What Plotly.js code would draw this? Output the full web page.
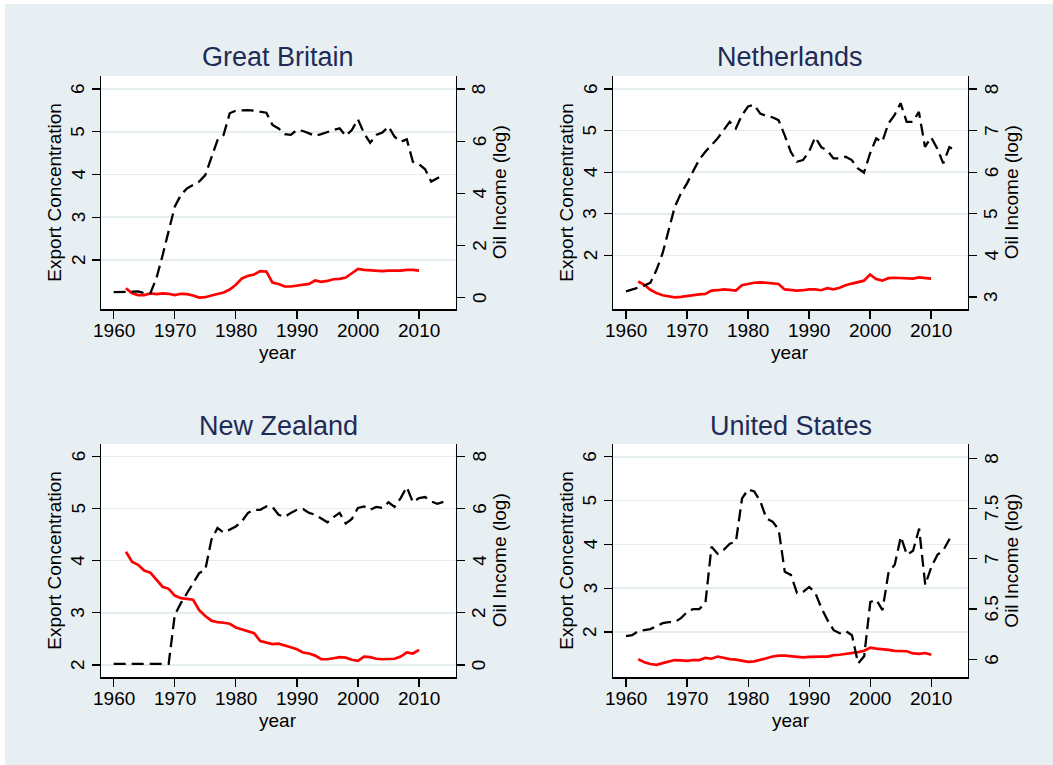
<!DOCTYPE html>
<html>
<head>
<meta charset="utf-8">
<script src="https://cdn.plot.ly/plotly-3.0.1.min.js"></script>
<style>
  html, body { margin: 0; padding: 0; background: #ffffff; }
  #chart { width: 1053px; height: 765px; }
</style>
</head>
<body>
<div id="chart"></div>
<script>
// ---------------- DATA ----------------
const panelTitles = ["Great Britain", "Netherlands", "New Zealand", "United States"];

const yearsOil = [1960,1961,1962,1963,1964,1965,1966,1967,1968,1969,
  1970,1971,1972,1973,1974,1975,1976,1977,1978,1979,
  1980,1981,1982,1983,1984,1985,1986,1987,1988,1989,
  1990,1991,1992,1993,1994,1995,1996,1997,1998,1999,
  2000,2001,2002,2003,2004,2005,2006,2007,2008,2009,
  2010,2011,2012,2013,2014];
const yearsOilUS = [1960,1961,1962,1963,1964,1965,1966,1967,1968,1969,
  1970,1971,1972,1973,1974,1975,1976,1977,1978,1979,
  1980,1981,1982,1983,1984,1985,1986,1987,1988,1989,
  1990,1991,1992,1993,1994,1995,1996,1997,1998,1999,
  2000,2001,2002,2003,2004,2005,2006,2007,2008,2009,
  2010,2011,2012,2013];
const yearsExp = [1962,1963,1964,1965,1966,1967,1968,1969,1970,1971,
  1972,1973,1974,1975,1976,1977,1978,1979,1980,1981,
  1982,1983,1984,1985,1986,1987,1988,1989,1990,1991,
  1992,1993,1994,1995,1996,1997,1998,1999,2000,2001,
  2002,2003,2004,2005,2006,2007,2008,2009,2010];

// Export concentration (left axis, red solid)
const expGB = [1.34,1.22,1.18,1.18,1.22,1.20,1.22,1.21,1.18,1.21,
  1.20,1.17,1.12,1.13,1.17,1.20,1.24,1.31,1.42,1.57,
  1.63,1.66,1.74,1.73,1.47,1.44,1.38,1.38,1.40,1.42,
  1.44,1.52,1.49,1.51,1.55,1.56,1.59,1.69,1.79,1.77,
  1.76,1.75,1.74,1.75,1.75,1.75,1.77,1.77,1.75];
const expNL = [1.37,1.29,1.17,1.09,1.04,1.01,0.99,1.00,1.02,1.05,
  1.06,1.07,1.15,1.16,1.18,1.17,1.15,1.28,1.31,1.34,
  1.35,1.34,1.33,1.31,1.18,1.16,1.15,1.16,1.18,1.18,
  1.16,1.21,1.18,1.22,1.28,1.32,1.36,1.39,1.54,1.43,
  1.39,1.45,1.46,1.45,1.45,1.44,1.47,1.45,1.44];
const expNZ = [4.17,3.98,3.92,3.81,3.77,3.64,3.50,3.46,3.33,3.28,
  3.27,3.25,3.05,2.94,2.85,2.82,2.81,2.79,2.72,2.68,
  2.65,2.61,2.46,2.43,2.40,2.41,2.38,2.34,2.30,2.24,
  2.22,2.18,2.11,2.11,2.13,2.15,2.14,2.10,2.08,2.16,
  2.15,2.12,2.11,2.11,2.12,2.16,2.24,2.22,2.29];
const expUS = [1.38,1.31,1.27,1.25,1.29,1.32,1.36,1.35,1.34,1.36,
  1.36,1.41,1.39,1.44,1.41,1.38,1.37,1.35,1.32,1.33,
  1.36,1.40,1.44,1.46,1.46,1.45,1.44,1.42,1.43,1.44,
  1.44,1.44,1.47,1.48,1.50,1.51,1.54,1.57,1.64,1.62,
  1.61,1.59,1.57,1.56,1.56,1.51,1.50,1.52,1.48];

// Oil income (log) (right axis, black dashed)
const oilGB = [0.21,0.21,0.22,0.23,0.24,0.18,0.17,0.75,1.62,2.50,
  3.49,3.94,4.19,4.32,4.45,4.70,5.34,6.04,6.24,7.07,
  7.17,7.19,7.19,7.17,7.13,7.09,6.62,6.49,6.27,6.24,
  6.43,6.39,6.30,6.20,6.27,6.36,6.43,6.49,6.20,6.43,
  6.84,6.30,5.94,6.24,6.33,6.56,6.17,5.98,6.07,5.21,
  5.12,4.92,4.45,4.58,4.70];
const oilNL = [3.13,3.17,3.22,3.27,3.34,3.65,4.05,4.61,5.17,5.49,
  5.73,6.02,6.30,6.49,6.65,6.81,7.01,7.21,7.05,7.37,
  7.58,7.62,7.41,7.35,7.32,7.25,6.89,6.49,6.25,6.29,
  6.49,6.84,6.60,6.52,6.33,6.33,6.37,6.29,6.09,5.99,
  6.45,6.81,6.73,7.17,7.37,7.66,7.21,7.21,7.45,6.61,
  6.84,6.57,6.21,6.60,6.52];
const oilNZ = [0.04,0.04,0.04,0.04,0.04,0.04,0.04,0.04,0.04,0.04,
  1.92,2.37,2.75,3.14,3.52,3.65,4.80,5.25,5.08,5.19,
  5.31,5.51,5.83,5.95,5.95,6.08,6.06,5.76,5.67,5.83,
  5.95,5.98,5.83,5.76,5.63,5.47,5.67,5.83,5.42,5.60,
  6.02,6.08,5.95,6.06,6.02,6.24,6.06,6.40,6.82,6.24,
  6.40,6.44,6.27,6.18,6.25];
const oilUS = [6.23,6.24,6.28,6.29,6.30,6.33,6.36,6.37,6.37,6.41,
  6.47,6.50,6.50,6.56,7.12,7.05,7.09,7.15,7.17,7.60,
  7.69,7.67,7.57,7.40,7.37,7.29,6.87,6.84,6.66,6.67,
  6.72,6.66,6.51,6.39,6.29,6.26,6.28,6.24,5.96,6.03,
  6.57,6.59,6.49,6.87,6.94,7.22,7.04,7.08,7.30,6.74,
  6.92,7.04,7.09,7.20];

const xTicks = [1960, 1970, 1980, 1990, 2000, 2010];
const xTickText = ["1960", "1970", "1980", "1990", "2000", "2010"];
const leftTicks = [2, 3, 4, 5, 6];
const leftTickText = ["2", "3", "4", "5", "6"];
const rightTicksGB = [0, 2, 4, 6, 8];
const rightTickTextGB = ["0", "2", "4", "6", "8"];
const rightTicksNL = [3, 4, 5, 6, 7, 8];
const rightTickTextNL = ["3", "4", "5", "6", "7", "8"];
const rightTicksNZ = [0, 2, 4, 6, 8];
const rightTickTextNZ = ["0", "2", "4", "6", "8"];
const rightTicksUS = [6, 6.5, 7, 7.5, 8];
const rightTickTextUS = ["6", "6.5", "7", "7.5", "8"];

const leftTitle = "Export Concentration";
const rightTitle = "Oil Income (log)";
const xTitle = "year";

// ---------------- LAYOUT ----------------
const W = 1053, H = 765;
const BG = "#e8eff2";
const FONT = "Liberation Sans, Arial, sans-serif";

// plot boxes in pixels: [left, right, top, bottom]
const boxes = [
  [101, 455.7, 76, 309.3],
  [613, 967.7, 76, 309.3],
  [101, 455.7, 444, 677.3],
  [613, 968, 444, 677.3]
];
const xRanges = [[1957.92, 2016.01], [1957.87, 2016.0], [1957.92, 2016.01], [1957.87, 2016.0]];
const leftRanges = [[0.847, 6.304], [0.701, 6.313], [1.764, 6.236], [0.966, 6.290]];
const rightRanges = [[-0.445, 8.498], [2.701, 8.313], [-0.472, 8.472], [5.821, 8.142]];
const rightTicks = [rightTicksGB, rightTicksNL, rightTicksNZ, rightTicksUS];
const rightTickTexts = [rightTickTextGB, rightTickTextNL, rightTickTextNZ, rightTickTextUS];
const expSeries = [expGB, expNL, expNZ, expUS];
const oilSeries = [oilGB, oilNL, oilNZ, oilUS];
const oilYears = [yearsOil, yearsOil, yearsOil, yearsOilUS];

const px = v => v / W;
const py = v => 1 - v / H;

const traces = [];
const layout = {
  width: W, height: H,
  margin: {l: 0, r: 0, t: 0, b: 0},
  paper_bgcolor: BG,
  plot_bgcolor: "#ffffff",
  showlegend: false,
  font: {family: FONT, size: 19, color: "#000000"},
  annotations: [],
  shapes: [
    {type: "rect", xref: "paper", yref: "paper", x0: 0, x1: px(5), y0: 0, y1: 1,
     fillcolor: "#ffffff", line: {width: 0}, layer: "above"},
    {type: "rect", xref: "paper", yref: "paper", x0: 0, x1: 1, y0: py(4), y1: 1,
     fillcolor: "#ffffff", line: {width: 0}, layer: "above"}
  ]
};

const tickFont = {family: FONT, size: 19, color: "#000"};

for (let i = 0; i < 4; i++) {
  const [L, R, T, B] = boxes[i];
  const xa = "xaxis" + (i === 0 ? "" : i + 1);
  const xid = "x" + (i === 0 ? "" : i + 1);
  const yLeftN = 2 * i + 1, yRightN = 2 * i + 2;
  const yLeftA = "yaxis" + (yLeftN === 1 ? "" : yLeftN);
  const yLeftId = "y" + (yLeftN === 1 ? "" : yLeftN);
  const yRightA = "yaxis" + yRightN;
  const yRightId = "y" + yRightN;

  layout[xa] = {
    domain: [px(L), px(R)], anchor: yLeftId, range: xRanges[i],
    tickvals: xTicks, showticklabels: false,
    ticks: "outside", ticklen: 8, tickwidth: 1.3, tickcolor: "#000",
    showline: true, linecolor: "#000", linewidth: 1.3, showgrid: false, zeroline: false,
    fixedrange: true
  };
  layout[yLeftA] = {
    domain: [py(B), py(T)], anchor: xid, range: leftRanges[i], side: "left",
    tickvals: leftTicks, showticklabels: false,
    ticks: "outside", ticklen: 8, tickwidth: 1.3, tickcolor: "#000",
    showline: true, linecolor: "#000", linewidth: 1.3,
    showgrid: true, gridcolor: "#e4ecf0", gridwidth: 1.6, zeroline: false,
    fixedrange: true
  };
  layout[yRightA] = {
    domain: [py(B), py(T)], anchor: xid, overlaying: yLeftId, side: "right",
    range: rightRanges[i], tickvals: rightTicks[i], showticklabels: false,
    ticks: "outside", ticklen: 8, tickwidth: 1.3, tickcolor: "#000",
    showline: true, linecolor: "#000", linewidth: 1.3,
    showgrid: false, zeroline: false,
    fixedrange: true
  };

  traces.push({
    type: "scatter", mode: "lines", name: leftTitle,
    x: yearsExp, y: expSeries[i], xaxis: xid, yaxis: yLeftId,
    line: {color: "#ff0000", width: 2.7}, hoverinfo: "x+y"
  });
  traces.push({
    type: "scatter", mode: "lines", name: rightTitle,
    x: oilYears[i], y: oilSeries[i], xaxis: xid, yaxis: yRightId,
    line: {color: "#000000", width: 2.3, dash: "12px,6px"}, hoverinfo: "x+y"
  });

  // tick labels, placed on the axes' own scales
  xTicks.forEach((v, k) => layout.annotations.push({
    text: xTickText[k], xref: xid, yref: "paper", x: v, y: py(B + 21),
    xanchor: "center", yanchor: "middle", showarrow: false, font: tickFont
  }));
  leftTicks.forEach((v, k) => layout.annotations.push({
    text: leftTickText[k], xref: "paper", yref: yLeftId, x: px(L - 23), y: v,
    textangle: -90, xanchor: "center", yanchor: "middle", showarrow: false, font: tickFont
  }));
  rightTicks[i].forEach((v, k) => layout.annotations.push({
    text: rightTickTexts[i][k], xref: "paper", yref: yRightId, x: px(R + 23.5), y: v,
    textangle: -90, xanchor: "center", yanchor: "middle", showarrow: false, font: tickFont
  }));

  const cx = (L + R) / 2, cy = (T + B) / 2;
  layout.annotations.push({
    text: panelTitles[i], xref: "paper", yref: "paper",
    x: px(cx), y: py(T - 18.5), xanchor: "center", yanchor: "middle", showarrow: false,
    font: {family: FONT, size: 27, color: "#1e2b57"}
  });
  layout.annotations.push({
    text: leftTitle, xref: "paper", yref: "paper", textangle: -90,
    x: px(L - 46), y: py(cy), xanchor: "center", yanchor: "middle", showarrow: false,
    font: {family: FONT, size: 19, color: "#000"}
  });
  layout.annotations.push({
    text: rightTitle, xref: "paper", yref: "paper", textangle: -90,
    x: px(R + 44), y: py(cy), xanchor: "center", yanchor: "middle", showarrow: false,
    font: {family: FONT, size: 19, color: "#000"}
  });
  layout.annotations.push({
    text: xTitle, xref: "paper", yref: "paper",
    x: px(cx), y: py(B + 43.4), xanchor: "center", yanchor: "middle", showarrow: false,
    font: {family: FONT, size: 19, color: "#000"}
  });
}

Plotly.newPlot("chart", traces, layout, {displayModeBar: false, staticPlot: true});
</script>
</body>
</html>
